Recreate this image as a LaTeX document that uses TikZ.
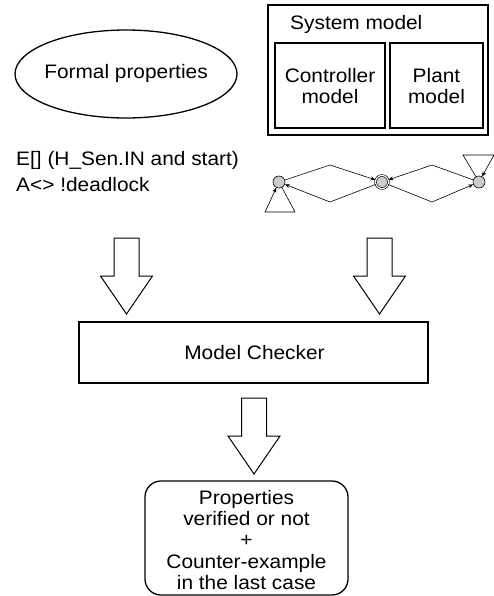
\documentclass[tikz,border=0pt]{standalone}
\usepackage{fontspec}
\setmainfont{Liberation Sans}
\usetikzlibrary{arrows.meta,shapes.geometric}
\tikzset{
  txt/.style={font=\fontsize{19.5}{21.3}\selectfont, inner sep=0pt, xscale=1.07, transform shape, align=center},
  boxline/.style={draw, line width=1.3pt},
  innerbox/.style={draw, line width=2pt},
  state/.style={circle, draw, fill=black!20, line width=0.6pt, minimum size=12pt, inner sep=0pt},
  fin/.style={circle, double, draw, fill=black!20, line width=0.6pt, double distance=1.2pt, minimum size=13pt, inner sep=0pt},
  edge/.style={draw, line width=0.6pt, -{Stealth[length=5pt,width=4pt]}},
  bigarrow/.pic={\draw[line width=1pt, fill=white] (-12.5,0) -- (12.5,0) -- (12.5,38) -- (26,38) -- (0,76) -- (-26,38) -- (-12.5,38) -- cycle;}
}
\begin{document}
\begin{tikzpicture}[x=1pt,y=-1pt]
\useasboundingbox (0,0) rectangle (494,596);
% formal properties
\node[ellipse, draw, line width=1.3pt, minimum width=222pt, minimum height=88pt] (fp) at (126,74) {};
\node[txt] (fpt) at (126,73) {Formal properties};
% system model
\draw[boxline] (268,5) rectangle (488,135);
\node[txt, anchor=base west] (sm) at (290,30) {System model};
\node[innerbox, minimum width=110pt, minimum height=85pt] (cm) at (330,85.5) {};
\node[innerbox, minimum width=93pt, minimum height=85pt] (pm) at (436.5,85.5) {};
\node[txt] (cmt) at (330,86) {Controller\\model};
\node[txt] (pmt) at (436.5,86) {Plant\\model};
% properties text
\node[txt, anchor=base west] (p1) at (16,165) {E[] (H\_Sen.IN and start)};
\node[txt, anchor=base west] (p2) at (16,191) {A<> !deadlock};
% automaton
\node[state] (s1) at (279,182) {};
\node[fin] (s2) at (382,182) {};
\node[state] (s3) at (479,182) {};
\coordinate (u1) at (330,165);
\coordinate (d1) at (330,202);
\coordinate (u2) at (432,165);
\coordinate (d2) at (432,202);
\coordinate (l1) at (265,212);
\coordinate (l2) at (295,212);
\coordinate (r1) at (463,155);
\coordinate (r2) at (494,155);
\draw[edge] (s1) -- (u1) -- (s2);
\draw[edge] (s2) -- (d1) -- (s1);
\draw[edge] (s3) -- (u2) -- (s2);
\draw[edge] (s2) -- (d2) -- (s3);
\draw[edge] (s1) -- (l2) -- (l1) -- (s1);
\draw[edge] (s3) -- (r1) -- (r2) -- (s3);
% big arrows
\pic at (126.5,238) {bigarrow};
\pic at (379.5,238) {bigarrow};
\pic at (254,398) {bigarrow};
% model checker
\node[draw, line width=1.6pt, minimum width=349pt, minimum height=61pt] (mc) at (253.5,352.5) {};
\node[txt] (mct) at (254.5,353) {Model Checker};
% result
\node[draw, line width=1.3pt, rounded corners=16pt, minimum width=203pt, minimum height=114pt] (res) at (246.5,538) {};
\node[txt] (rest) at (246.5,540) {Properties\\verified or not\\+\\Counter-example\\in the last case};
\end{tikzpicture}
\end{document}
